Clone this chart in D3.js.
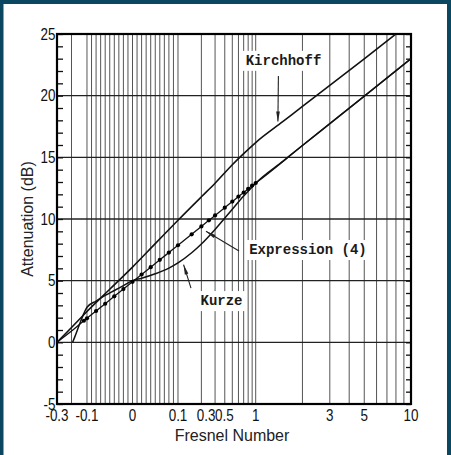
<!DOCTYPE html>
<html>
<head>
<meta charset="utf-8">
<script src="https://cdn.jsdelivr.net/npm/d3@7"></script>
<style>
  body { margin: 0; background: #0b4761; }
  svg { display: block; }
</style>
</head>
<body>
<svg id="chart" width="451" height="455"></svg>
<script>
/*
Atténuation d'un écran vs nombre de Fresnel
Kirchhoff, Kurze et l'expression (4)
*/

// valeurs (N, dB)
var kirchN  = [-0.3, -0.2, -0.1, -0.05, 0, 0.05, 0.1, 0.2, 0.3, 0.5, 0.7, 1, 1.5, 2, 3, 5, 7.9];
var kirchDb = [0, 1.2, 2.5, 4.3, 6.1, 8.0, 9.9, 11.8, 12.9, 14.4, 15.3, 16.2, 17.91, 19.13, 20.83, 22.99, 24.95];

var kurzeN  = [-0.193, -0.18, -0.15, -0.12, -0.1, -0.08, -0.06, -0.04, -0.02, 0, 0.02, 0.05, 0.08, 0.1, 0.15, 0.2, 0.3, 0.5, 0.7, 0.85, 1, 1.5, 2, 3, 5, 10];
var kurzeDb = [0, 0.4, 1.4, 2.35, 2.85, 3.35, 3.8, 4.2, 4.6, 5.0, 5.2, 5.56, 6.02, 6.44, 7.26, 7.97, 9.15, 10.79, 11.87, 12.43, 12.9, 14.69, 15.96, 17.73, 19.96, 23.0];

var exprN  = [-0.3, -0.2, -0.12, -0.1, -0.08, -0.06, -0.04, -0.02, 0, 0.02, 0.04, 0.06, 0.08, 0.1, 0.15, 0.2, 0.25, 0.3, 0.4, 0.5, 0.6, 0.7, 0.8, 0.9, 1, 2, 3, 5, 10];
var exprDb = [0, 0.91, 1.75, 1.95, 2.54, 3.13, 3.73, 4.32, 4.91, 5.50, 6.09, 6.69, 7.28, 7.87, 8.76, 9.40, 9.89, 10.29, 10.92, 11.41, 11.82, 12.15, 12.45, 12.71, 12.92, 15.96, 17.73, 19.96, 23.0];

// axes
var xTickLabels = [-0.3, -0.1, 0, 0.1, 0.3, 0.5, 1, 3, 5, 10];
var xGrid = [-0.2, -0.1, -0.09, -0.08, -0.07, -0.06, -0.05, -0.04, -0.03, -0.02, -0.01,
             0, 0.01, 0.02, 0.03, 0.04, 0.05, 0.06, 0.07, 0.08, 0.09,
             0.1, 0.2, 0.3, 0.4, 0.5, 0.6, 0.7, 0.8, 0.9, 1, 2, 3, 4, 5, 6, 7, 8, 9];
var yTicks = [-5, 0, 5, 10, 15, 20, 25];

var width = 451, height = 455;
// attention : "top" est déjà pris par window
var pLeft = 57, pRight = 411, pTop = 34, pBottom = 404;
var plotW = pRight - pLeft;

var svg = d3.select("#chart");

// cadre teal + panneau blanc
svg.append("rect").attr("width", width).attr("height", height).attr("fill", "#0b4761");
svg.append("rect").attr("x", 3.5).attr("y", 4).attr("width", 443.5).attr("height", height - 4).attr("fill", "white");

// l'axe x est en morceaux : linéaire autour de 0 puis deux bouts log
var xLin = d3.scaleLinear()
  .domain([-0.3, -0.2, -0.1, 0, 0.1])
  .range([0, 0.041, 0.0847, 0.2133, 0.3418].map(f => pLeft + f * plotW));
var xLogA = d3.scaleLog().domain([0.1, 1]).range([xLin(0.1), pLeft + 0.5613 * plotW]);
var xLogB = d3.scaleLog().domain([1, 10]).range([xLogA(1), pRight]);

function x(n) {
  if (n <= 0.1) return xLin(n);
  if (n <= 1) return xLogA(n);
  return xLogB(n);
}

var y = d3.scaleLinear().domain([-5, 25]).range([pBottom, pTop]);

// grille verticale
svg.append("g")
  .attr("stroke", "#555")
  .attr("stroke-width", 1)
  .selectAll("line")
  .data(xGrid)
  .join("line")
  .attr("x1", d => x(d)).attr("x2", d => x(d))
  .attr("y1", y(-5)).attr("y2", y(25));

// grille horizontale (tous les 5 dB)
svg.append("g")
  .attr("stroke", "#222")
  .attr("stroke-width", 1.4)
  .selectAll("line")
  .data(yTicks)
  .join("line")
  .attr("x1", pLeft).attr("x2", pRight)
  .attr("y1", d => y(d)).attr("y2", d => y(d));

// petites graduations à gauche et à droite, chaque dB
svg.append("g")
  .attr("transform", `translate(${pLeft},0)`)
  .call(d3.axisLeft(y).ticks(30).tickSize(-6).tickFormat(""))
  .call(g => g.select(".domain").remove())
  .call(g => g.selectAll("line").attr("stroke", "#111").attr("stroke-width", 1.3));
svg.append("g")
  .attr("transform", `translate(${pRight},0)`)
  .call(d3.axisRight(y).ticks(30).tickSize(-5).tickFormat(""))
  .call(g => g.select(".domain").remove())
  .call(g => g.selectAll("line").attr("stroke", "#111").attr("stroke-width", 1.3));

// annotations : position en coordonnées de données
var notes = [
  { text: "Kirchhoff", n: 1.51, db: 22.5, from: [1.40, 21.6], to: [1.39, 17.9] },
  { text: "Expression (4)", n: 2.17, db: 7.16, from: [0.61, 7.4], to: [0.229, 9.0] },
  { text: "Kurze", n: 0.363, db: 3.02, from: [0.147, 4.4], to: [0.118, 6.3] }
];

var noteG = svg.append("g");
notes.forEach(d => {
  var g = noteG.append("g");
  var bg = g.append("rect").attr("fill", "white");
  var t = g.append("text")
    .attr("x", x(d.n))
    .attr("y", y(d.db))
    .attr("text-anchor", "middle")
    .attr("font-family", "'Liberation Mono', 'DejaVu Sans Mono', monospace")
    .attr("font-size", 14)
    .attr("font-weight", "bold")
    .attr("fill", "#1a1a1a")
    .text(d.text);
  var b = t.node().getBBox();
  bg.attr("x", b.x - 3).attr("y", b.y - 2).attr("width", b.width + 6).attr("height", b.height + 4);
});

// cadre du graphique
svg.append("rect")
  .attr("x", pLeft).attr("y", pTop)
  .attr("width", plotW).attr("height", pBottom - pTop)
  .attr("fill", "none")
  .attr("stroke", "#000")
  .attr("stroke-width", 2.2);

// courbes
var line = d3.line()
  .x(d => x(d[0]))
  .y(d => y(d[1]))
  .curve(d3.curveMonotoneX);

var series = [
  { name: "Kirchhoff", pts: kirchN.map((n, i) => [n, kirchDb[i]]), w: 1.6 },
  { name: "Kurze", pts: kurzeN.map((n, i) => [n, kurzeDb[i]]), w: 1.5 },
  { name: "Expression (4)", pts: exprN.map((n, i) => [n, exprDb[i]]), w: 1.3 }
];

svg.append("g")
  .selectAll("path")
  .data(series)
  .join("path")
  .attr("fill", "none")
  .attr("stroke", "#111")
  .attr("stroke-width", d => d.w)
  .attr("d", d => line(d.pts));

// points de l'expression (4)
var dots = exprN.map((n, i) => [n, exprDb[i]]).filter(d => d[0] >= -0.12 && d[0] <= 1);
svg.append("g")
  .selectAll("circle")
  .data(dots)
  .join("circle")
  .attr("cx", d => x(d[0]))
  .attr("cy", d => y(d[1]))
  .attr("r", 2.1)
  .attr("fill", "#000");

// flèches des annotations
svg.append("defs").append("marker")
  .attr("id", "arrow")
  .attr("viewBox", "0 -3 12 6")
  .attr("refX", 12).attr("refY", 0)
  .attr("markerUnits", "userSpaceOnUse")
  .attr("markerWidth", 12).attr("markerHeight", 5)
  .attr("orient", "auto")
  .append("path")
  .attr("d", "M0,-2.2L12,0L0,2.2Z")
  .attr("fill", "#222");

svg.append("g")
  .selectAll("line")
  .data(notes)
  .join("line")
  .attr("x1", d => x(d.from[0])).attr("y1", d => y(d.from[1]))
  .attr("x2", d => x(d.to[0])).attr("y2", d => y(d.to[1]))
  .attr("stroke", "#222")
  .attr("stroke-width", 1.1)
  .attr("marker-end", "url(#arrow)");

// étiquettes des axes : chiffres étroits, on comprime en largeur
var tickFont = "'Liberation Sans', Arial, sans-serif";
var squeeze = 0.84;
var shiftX = { "0.3": -9, "0.5": -8 }; // sur l'original ces deux-là sont tassés à gauche

svg.append("g")
  .attr("font-family", tickFont)
  .attr("font-size", 16)
  .attr("fill", "#111")
  .attr("text-anchor", "end")
  .selectAll("text")
  .data(yTicks)
  .join("text")
  .attr("transform", d => `translate(${pLeft - 1.5},${y(d)}) scale(${squeeze},1)`)
  .attr("dy", "0.36em")
  .text(d => d);

svg.append("g")
  .attr("font-family", tickFont)
  .attr("font-size", 16)
  .attr("fill", "#111")
  .attr("text-anchor", "middle")
  .selectAll("text")
  .data(xTickLabels)
  .join("text")
  .attr("transform", d => `translate(${x(d) + (shiftX[d] || 0)},421) scale(${squeeze},1)`)
  .text(d => d);

svg.append("text")
  .attr("x", 232).attr("y", 441)
  .attr("text-anchor", "middle")
  .attr("font-family", "'Liberation Sans', Arial, sans-serif")
  .attr("font-size", 16)
  .attr("fill", "#222")
  .text("Fresnel Number");

svg.append("text")
  .attr("transform", "translate(33,219) rotate(-90)")
  .attr("text-anchor", "middle")
  .attr("font-family", "'Liberation Sans', Arial, sans-serif")
  .attr("font-size", 16)
  .attr("fill", "#222")
  .text("Attenuation (dB)");
</script>
</body>
</html>
